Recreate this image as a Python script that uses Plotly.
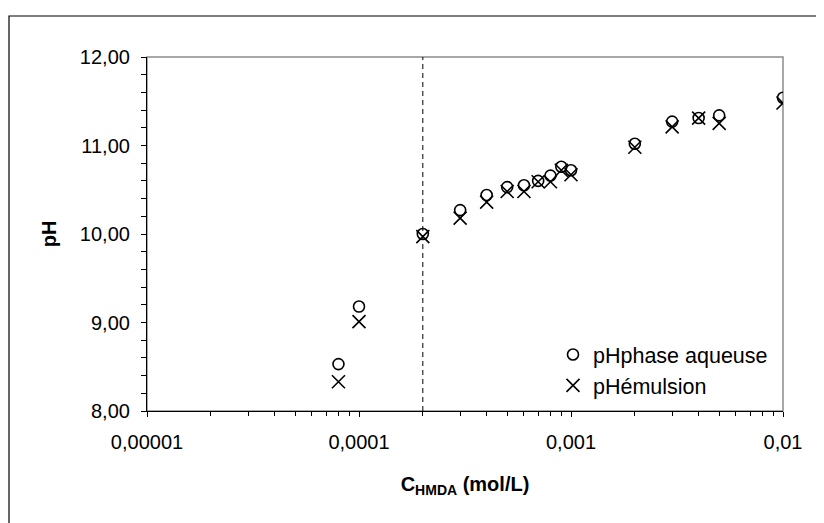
import plotly.graph_objects as go

# Data
conc = [0.00008, 0.0001, 0.0002, 0.0003, 0.0004, 0.0005, 0.0006, 0.0007, 0.0008, 0.0009, 0.001,
        0.002, 0.003, 0.004, 0.005, 0.01]
ph_aqueuse = [8.53, 9.18, 10.00, 10.27, 10.44, 10.53, 10.55, 10.60, 10.66, 10.76, 10.72,
              11.02, 11.27, 11.31, 11.34, 11.54]
ph_emulsion = [8.33, 9.01, 9.97, 10.18, 10.36, 10.48, 10.48, 10.59, 10.59, 10.72, 10.67,
               10.98, 11.21, 11.31, 11.25, 11.48]
cmc_line = 0.0002

x_tickvals = [0.00001, 0.0001, 0.001, 0.01]
x_ticktext = ["0,00001", "0,0001", "0,001", "0,01"]
y_tickvals = [8, 9, 10, 11, 12]
y_ticktext = ["8,00", "9,00", "10,00", "11,00", "12,00"]
x_minor = [m * d for d in [0.00001, 0.0001, 0.001] for m in range(2, 10)]

FONT = "Liberation Sans, Arial, sans-serif"
FS = 20

fig = go.Figure()
fig.add_trace(go.Scatter(
    x=conc, y=ph_aqueuse, mode="markers", name="pHphase aqueuse",
    marker=dict(symbol="circle-open", size=11, color="black", line=dict(width=1.6, color="black")),
))
fig.add_trace(go.Scatter(
    x=conc, y=ph_emulsion, mode="markers", name="pHémulsion",
    marker=dict(symbol="x-thin-open", size=13, color="black", line=dict(width=1.6, color="black")),
))
fig.add_trace(go.Scatter(
    x=[cmc_line, cmc_line], y=[8, 12], mode="lines", showlegend=False,
    line=dict(color="black", width=1, dash="5px,4px"), hoverinfo="skip",
))

W, H = 824, 523
OFF = 8  # browser page margin offset
# target plot area in screen pixels: left 147, right 783, top 57, bottom 411
ml = 147 - OFF
mt = 57 - OFF
pw = 783 - 147
ph = 411 - 57
mr = W - ml - pw
mb = H - mt - ph


def px_x(p):
    return (p - OFF - ml) / pw


def px_y(p):
    return (411 - p) / ph


shapes = [
    # outer frame
    dict(type="rect", xref="paper", yref="paper",
         x0=px_x(9), x1=px_x(840), y0=px_y(540), y1=px_y(16),
         line=dict(color="black", width=1.2), fillcolor="rgba(0,0,0,0)", layer="below"),
    # plot area border (gray)
    dict(type="rect", xref="paper", yref="paper", x0=0, x1=1, y0=0, y1=1,
         line=dict(color="#8c8c8c", width=1.5), fillcolor="rgba(0,0,0,0)", layer="below"),
]

fig.update_layout(
    width=W, height=H,
    margin=dict(l=ml, r=mr, t=mt, b=mb),
    paper_bgcolor="white", plot_bgcolor="white",
    font=dict(family=FONT, size=FS, color="black"),
    shapes=shapes,
    showlegend=True,
    legend=dict(x=px_x(553), y=px_y(334), xanchor="left", yanchor="top",
                bgcolor="rgba(255,255,255,0)", borderwidth=0,
                font=dict(family=FONT, size=21.5, color="black"),
                itemwidth=30),
    xaxis=dict(
        type="log", range=[-5, -2],
        tickvals=x_tickvals, ticktext=x_ticktext,
        showgrid=False, zeroline=False,
        showline=True, linecolor="black", linewidth=1.2,
        ticks="outside", ticklen=5, tickcolor="black", tickwidth=1,
        ticklabelstandoff=8,
        minor=dict(tickvals=x_minor, ticks="outside", ticklen=4, tickcolor="black", showgrid=False),
        title=dict(text="<b>C<sub>HMDA</sub> (mol/L)</b>", font=dict(family=FONT, size=FS), standoff=24),
    ),
    yaxis=dict(
        range=[8, 12],
        tickvals=y_tickvals, ticktext=y_ticktext,
        showgrid=False, zeroline=False,
        showline=True, linecolor="black", linewidth=1.2,
        ticks="outside", ticklen=5, tickcolor="black", tickwidth=1,
        ticklabelstandoff=7,
        minor=dict(dtick=0.2, ticks="outside", ticklen=5, tickcolor="black", showgrid=False),
        title=dict(text="<b>pH</b>", font=dict(family=FONT, size=FS), standoff=17),
    ),
)

fig.write_html("out.html")
